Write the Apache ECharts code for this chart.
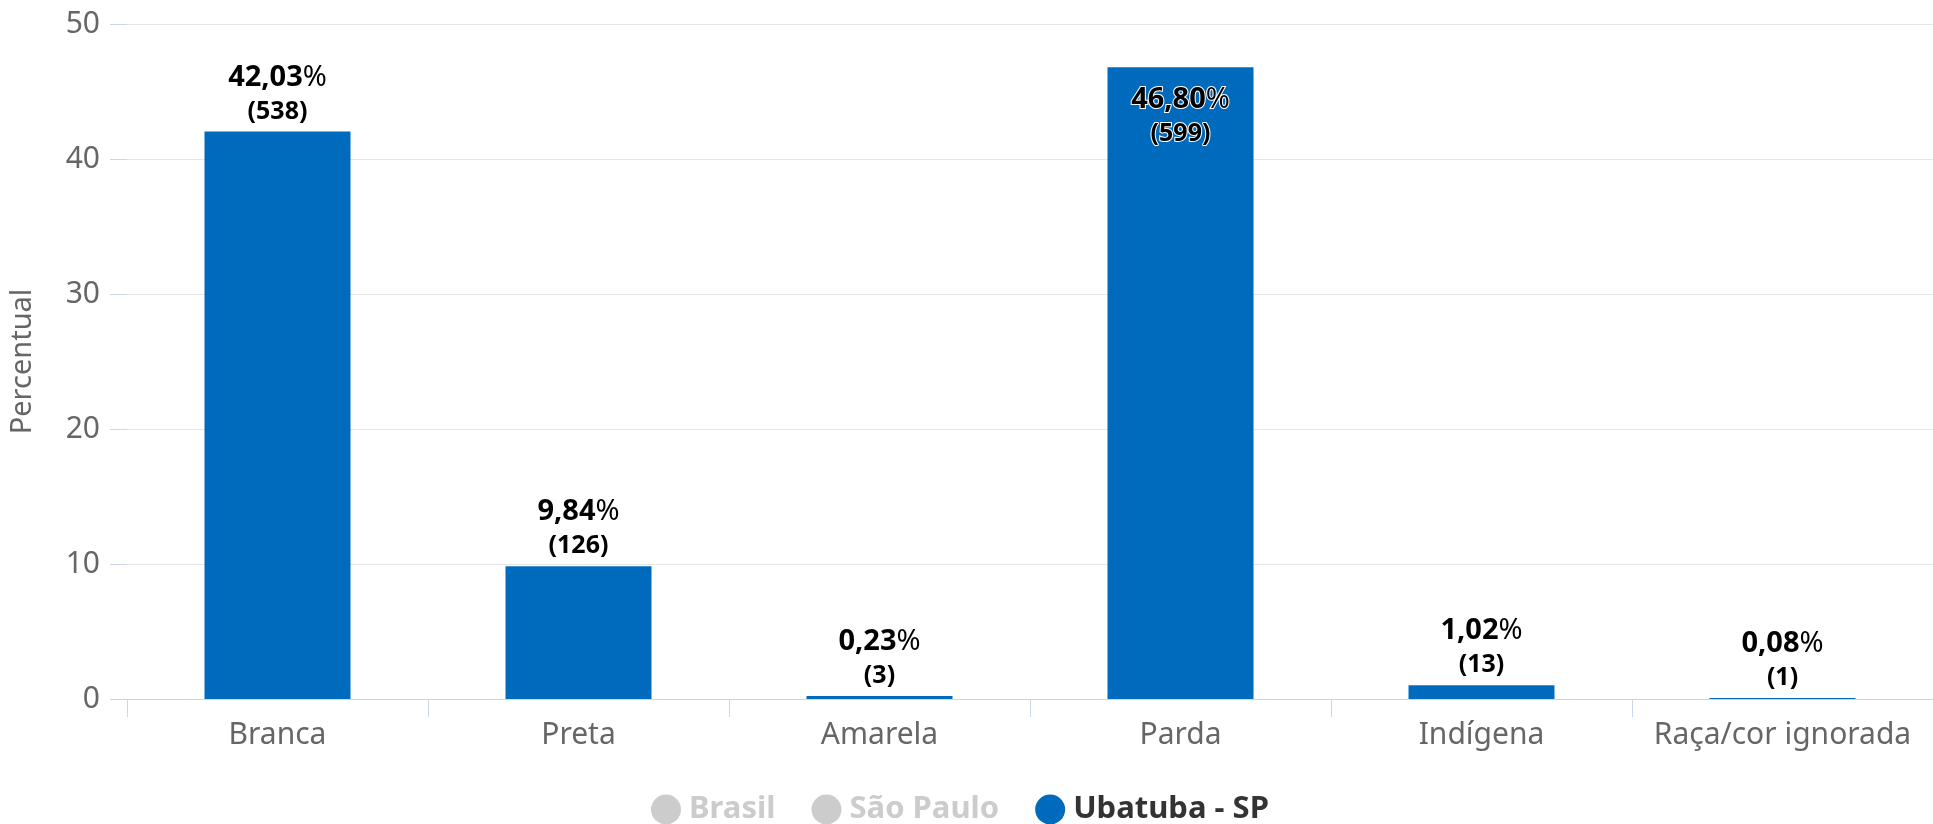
<!DOCTYPE html>
<html>
<head>
<meta charset="utf-8">
<script src="https://cdn.jsdelivr.net/npm/echarts@6/dist/echarts.min.js"></script>
<style>
html,body{margin:0;padding:0;background:#fff;}
#chart{width:1933px;height:824px;}
</style>
</head>
<body>
<div id="chart"></div>
<script>
const categories = ['Branca', 'Preta', 'Amarela', 'Parda', 'Indígena', 'Raça/cor ignorada'];
const ubatubaPercent = [42.03, 9.84, 0.23, 46.80, 1.02, 0.08];
const ubatubaCount = [538, 126, 3, 599, 13, 1];
const brasilPercent = [];
const saoPauloPercent = [];
const yTicks = { min: 0, max: 50, interval: 10 };

const FONT = '"Noto Sans", Lato, sans-serif';
const chart = echarts.init(document.getElementById('chart'), null, { renderer: 'canvas' });

const fmt = v => v.toFixed(2).replace('.', ',');

const ubatubaData = ubatubaPercent.map((v, i) => ({
  value: v,
  count: ubatubaCount[i],
  label: v > 45 ? { position: 'insideTop', distance: 14, textBorderColor: '#fff', textBorderWidth: 2 } : {}
}));

chart.setOption({
  animation: false,
  backgroundColor: '#fff',
  textStyle: { fontFamily: FONT },
  grid: { left: 127, top: 24, width: 1816, height: 675, containLabel: false },
  legend: {
    left: 646, top: 789,
    icon: 'circle', itemWidth: 30, itemHeight: 30, itemGap: 36,
    inactiveColor: '#cccccc',
    textStyle: { fontFamily: FONT, fontSize: 31, fontWeight: 'bold', color: '#333', padding: [0, 0, 0, 3] },
    selected: { 'Brasil': false, 'São Paulo': false },
    data: ['Brasil', 'São Paulo', 'Ubatuba - SP']
  },
  xAxis: {
    type: 'category',
    data: categories,
    axisLine: { lineStyle: { color: '#ccd6eb', width: 1 } },
    axisTick: { show: true, length: 18, lineStyle: { color: '#ccd6eb' } },
    axisLabel: { color: '#666', fontSize: 30, fontFamily: FONT, margin: 21, interval: 0 }
  },
  yAxis: {
    type: 'value',
    min: yTicks.min, max: yTicks.max, interval: yTicks.interval,
    name: 'Percentual',
    nameLocation: 'middle',
    nameGap: 90,
    nameTextStyle: { color: '#666', fontSize: 29, fontFamily: FONT },
    axisLine: { show: false },
    axisTick: { show: true, length: 17, lineStyle: { color: '#ccd6eb' } },
    axisLabel: { color: '#666', fontSize: 30, fontFamily: FONT, margin: 27 },
    splitLine: { lineStyle: { color: '#e6e6e6', width: 1 } }
  },
  series: [
    { name: 'Brasil', type: 'bar', data: brasilPercent, itemStyle: { color: '#434348' } },
    { name: 'São Paulo', type: 'bar', data: saoPauloPercent, itemStyle: { color: '#90ed7d' } },
    {
      name: 'Ubatuba - SP',
      type: 'bar',
      data: ubatubaData,
      barWidth: 146,
      itemStyle: { color: '#006bbd' },
      label: {
        show: true,
        position: 'top',
        distance: 5,
        align: 'center',
        formatter: p => '{v|' + fmt(p.value) + '}{p|%}\n{n|(' + p.data.count + ')}',
        rich: {
          v: { fontFamily: FONT, fontSize: 29, fontWeight: 'bold', color: '#000', lineHeight: 38 },
          p: { fontFamily: FONT, fontSize: 29, fontWeight: 'normal', color: '#000', lineHeight: 38 },
          n: { fontFamily: FONT, fontSize: 25, fontWeight: 'bold', color: '#000', lineHeight: 30 }
        }
      }
    }
  ]
});
</script>
</body>
</html>
